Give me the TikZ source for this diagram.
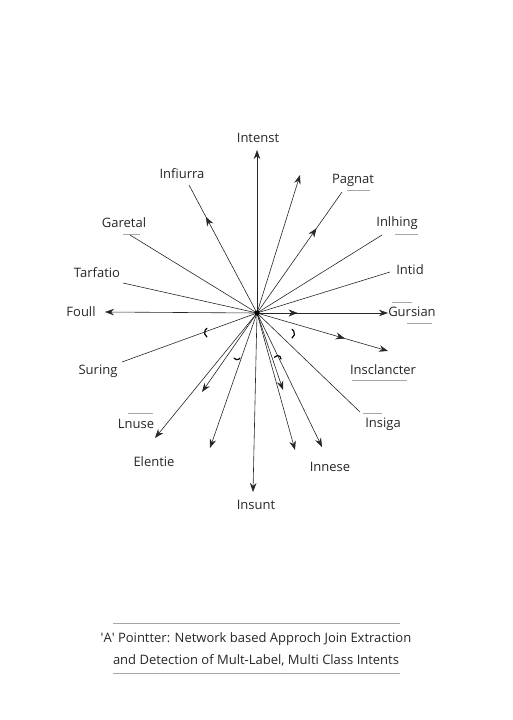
\documentclass[tikz,border=0pt]{standalone}
\usepackage{fontspec}
\setmainfont{Open Sans}
\usetikzlibrary{arrows.meta,decorations.markings,positioning}
\tikzset{
    spoke/.style={draw=black!85, line width=0.6pt},
    tip/.style={-{Stealth[length=9pt,width=6.5pt]}},
    midarrow/.style={postaction={decorate},
        decoration={markings,mark=at position #1 with {\arrow{Stealth[length=9pt,width=7pt]}}}},
    lbl/.style={font=\fontsize{13}{15}\selectfont, text=black!85, inner sep=1pt},
    rule/.style={draw=black!35, line width=0.7pt},
    hook/.style={draw=black, line width=1.2pt, line cap=round},
}

\begin{document}
\begin{tikzpicture}[x=1pt,y=-1pt]
    \useasboundingbox (0,0) rectangle (512,720);

    % Hub and spoke ends.
    \coordinate (hub) at (257,313);
    \foreach \n/\x/\y in {up/257/150, upr/300/175, infi/189/185, pag/342/192,
        gar/130/235, inl/382/235, tar/123/283, intid/390/272, foull/105/312,
        gurs/388/313, sur/122/362, inscl/388/351, insig/360/412, elen/155/438,
        dl/202/392, dml/210/448, down/253/492, drs/283/390, dr/295/450, inn/322/447}
        \coordinate (\n) at (\x,\y);

    % Draw plain spokes.
    \foreach \n in {gar,inl,tar,intid,sur,insig}
        \draw[spoke] (hub) -- (\n);
    % Draw spokes with end tips.
    \foreach \n in {up,upr,foull,elen,dl,dml,down,drs,dr,inn}
        \draw[spoke,tip] (hub) -- (\n);
    % Draw spokes with tips on the way.
    \draw[spoke,midarrow=0.75] (hub) -- (infi);
    \draw[spoke,midarrow=0.70] (hub) -- (pag);
    \draw[spoke,tip,midarrow=0.31] (hub) -- (gurs);
    \draw[spoke,tip,midarrow=0.67] (hub) -- (inscl);
    \fill[black] (hub) circle [radius=2.5pt];

    % Small hooks near the hub.
    \draw[hook] (207,337) arc[start angle=120,end angle=240,radius=5];
    \draw[hook] (292,338) arc[start angle=60,end angle=-60,radius=5];
    \draw[hook] (234,358) arc[start angle=150,end angle=30,radius=3.5];
    \draw[hook] (281,359) arc[start angle=0,end angle=-150,radius=3.5];

    % Labels.
    \foreach \n/\x/\y/\t in {intenst/258/138/Intenst, infiurra/182/174/Infiurra,
        pagnat/353/180/Pagnat, garetal/124/223/Garetal, inlhing/397/223/Inlhing,
        tarfatio/97/273/Tarfatio, intidl/410/270/Intid, foulll/81/312/Foull,
        gursian/412/312/Gursian, suring/98/371/Suring, insclancter/383/370/Insclancter,
        insiga/383/424/Insiga, lnuse/136/424/Lnuse, elentie/154/462/Elentie,
        insunt/256/505/Insunt, innese/330/467/Innese}
        \node[lbl] (\n) at (\x,\y) {\t};

    % Short rules by the labels.
    \draw[rule] (347,190) -- (370,190);
    \draw[rule] (123,234) -- (140,234);
    \draw[rule] (395,234) -- (418,234);
    \draw[rule] (392,302) -- (412,302);
    \draw[rule] (407,323) -- (432,323);
    \draw[rule] (352,380) -- (407,380);
    \draw[rule] (363,413) -- (382,413);
    \draw[rule] (128,413) -- (153,413);

    % Title.
    \draw[rule] (113,623) -- (400,623);
    \node[lbl, align=center, font=\fontsize{13}{22}\selectfont] (title) at (256,649)
        {\textquotesingle A\textquotesingle{} Pointter: Network based Approch Join Extraction\\
         and Detection of Mult-Label, Multi Class Intents};
    \draw[rule] (113,673) -- (400,673);
\end{tikzpicture}
\end{document}
